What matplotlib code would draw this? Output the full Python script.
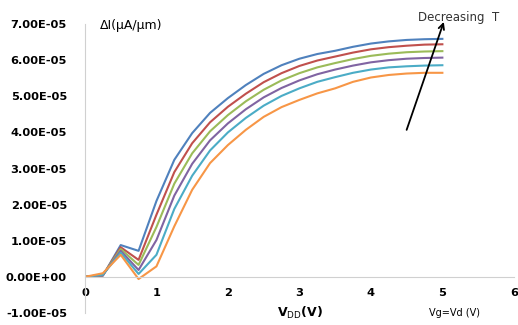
import matplotlib
matplotlib.use("Agg")
import matplotlib.pyplot as plt
from matplotlib.ticker import FuncFormatter
import numpy as np

# gate/drain voltage (V)
vg = [0, 0.25, 0.5, 0.75, 1.0, 1.25, 1.5, 1.75, 2.0, 2.25, 2.5,
      2.75, 3.0, 3.25, 3.5, 3.75, 4.0, 4.25, 4.5, 4.75, 5.0]

# delta I, in units of 1E-5 uA/um (highest T first)
di_blue = [0, 0.03, 0.88, 0.72, 2.10, 3.24, 3.98, 4.54, 4.95, 5.31, 5.62,
           5.86, 6.04, 6.17, 6.26, 6.37, 6.46, 6.52, 6.56, 6.58, 6.59]
di_red = [0, 0.04, 0.82, 0.47, 1.72, 2.90, 3.70, 4.28, 4.71, 5.07, 5.39,
          5.64, 5.84, 5.99, 6.10, 6.21, 6.30, 6.36, 6.40, 6.43, 6.44]
di_green = [0, 0.05, 0.77, 0.33, 1.38, 2.58, 3.42, 4.03, 4.48, 4.86, 5.18,
            5.44, 5.64, 5.80, 5.92, 6.03, 6.12, 6.18, 6.22, 6.24, 6.25]
di_purple = [0, 0.05, 0.72, 0.19, 1.02, 2.25, 3.13, 3.78, 4.25, 4.64, 4.97,
             5.23, 5.44, 5.61, 5.74, 5.85, 5.94, 6.00, 6.04, 6.06, 6.07]
di_cyan = [0, 0.06, 0.67, 0.08, 0.61, 1.88, 2.80, 3.50, 4.00, 4.40, 4.74,
           5.01, 5.22, 5.40, 5.53, 5.65, 5.74, 5.80, 5.83, 5.85, 5.86]
di_orange = [0, 0.10, 0.61, -0.06, 0.29, 1.40, 2.41, 3.15, 3.65, 4.07, 4.43,
             4.70, 4.90, 5.08, 5.22, 5.40, 5.52, 5.59, 5.63, 5.65, 5.65]

series = [
    (di_blue, "#4F81BD"),
    (di_red, "#C0504D"),
    (di_green, "#9BBB59"),
    (di_purple, "#8064A2"),
    (di_cyan, "#4BACC6"),
    (di_orange, "#F79646"),
]

fig = plt.figure(figsize=(5.18, 3.25), dpi=100)
ax = fig.add_axes([0.164, 0.037, 0.828, 0.889])

for vals, col in series:
    ax.plot(vg, np.array(vals) * 1e-5, color=col, linewidth=1.5)

ax.set_xlim(0, 6)
ax.set_ylim(-1e-5, 7e-5)
ax.set_xticks(range(0, 7))
ax.set_yticks(np.arange(-1, 8) * 1e-5)
ax.yaxis.set_major_formatter(FuncFormatter(lambda v, p: "%.2E" % v))

ax.spines["top"].set_visible(False)
ax.spines["right"].set_visible(False)
ax.spines["bottom"].set_position(("data", 0))
ax.spines["left"].set_color("#D0D0D0")
ax.spines["bottom"].set_color("#D0D0D0")
ax.tick_params(length=0)
ax.tick_params(axis="y", pad=13)
ax.tick_params(axis="x", pad=8)
for lab in ax.get_xticklabels() + ax.get_yticklabels():
    lab.set_fontweight("bold")
    lab.set_fontsize(8.2)

ax.text(0.21, 6.97e-5, "ΔI(μA/μm)", fontsize=9, va="center", ha="left")
ax.text(3.0, -1.0e-5, "V$_{\\mathrm{DD}}$(V)", fontsize=9, fontweight="bold",
        ha="center", va="center")
ax.text(5.17, -1.0e-5, "Vg=Vd (V)", fontsize=7, ha="center", va="center")

ax.annotate("", xy=(5.02, 7.06e-5), xytext=(4.5, 4.07e-5),
            annotation_clip=False,
            arrowprops=dict(arrowstyle="->", color="black", lw=1.3,
                            shrinkA=0, shrinkB=0))
ax.text(4.66, 7.19e-5, "Decreasing  T", fontsize=8.5, color="#333333",
        ha="left", va="center")

fig.savefig("out.png", dpi=100)
